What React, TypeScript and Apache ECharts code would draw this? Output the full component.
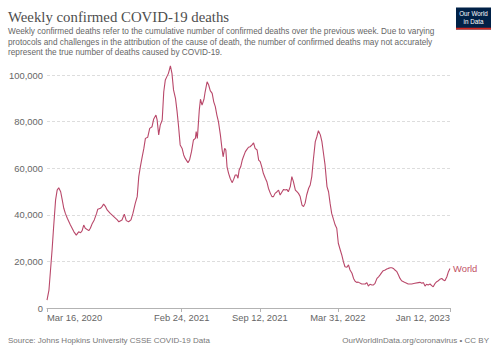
import React, { useEffect, useRef } from "react";
import * as echarts from "echarts";

const dates = [
  "2020-03-16","2020-03-21","2020-03-25","2020-03-29","2020-04-02","2020-04-07","2020-04-11","2020-04-15","2020-04-20","2020-04-24",
  "2020-04-28","2020-05-02","2020-05-07","2020-05-15","2020-05-24","2020-05-30","2020-06-05","2020-06-10","2020-06-14","2020-06-18",
  "2020-06-22","2020-07-01","2020-07-05","2020-07-10","2020-07-15","2020-07-21","2020-07-24","2020-07-31","2020-08-04","2020-08-08",
  "2020-08-13","2020-08-17","2020-08-25","2020-09-03","2020-09-12","2020-09-16","2020-09-24","2020-09-30","2020-10-05","2020-10-11",
  "2020-10-17","2020-10-22","2020-10-28","2020-11-02","2020-11-06","2020-11-10","2020-11-14","2020-11-19","2020-11-23","2020-11-29",
  "2020-12-04","2020-12-10","2020-12-14","2020-12-20","2020-12-23","2020-12-27","2020-12-31","2021-01-05","2021-01-09","2021-01-13",
  "2021-01-17","2021-01-21","2021-01-26","2021-01-30","2021-02-03","2021-02-08","2021-02-12","2021-02-16","2021-02-20","2021-02-25",
  "2021-03-01","2021-03-05","2021-03-12","2021-03-16","2021-03-21","2021-03-26","2021-03-31","2021-04-02","2021-04-05","2021-04-10",
  "2021-04-13","2021-04-17","2021-04-22","2021-04-25","2021-04-30","2021-05-04","2021-05-08","2021-05-13","2021-05-17","2021-05-21",
  "2021-05-25","2021-05-29","2021-06-03","2021-06-07","2021-06-10","2021-06-14","2021-06-17","2021-06-20","2021-06-24","2021-06-28",
  "2021-07-03","2021-07-07","2021-07-11","2021-07-15","2021-07-18","2021-07-21","2021-07-25","2021-07-29","2021-08-01","2021-08-06",
  "2021-08-10","2021-08-14","2021-08-18","2021-08-23","2021-08-27","2021-08-31","2021-09-05","2021-09-09","2021-09-13","2021-09-17",
  "2021-09-21","2021-09-26","2021-09-30","2021-10-04","2021-10-09","2021-10-13","2021-10-17","2021-10-21","2021-10-26","2021-10-30",
  "2021-11-03","2021-11-08","2021-11-12","2021-11-16","2021-11-20","2021-11-24","2021-11-29","2021-12-03","2021-12-07","2021-12-12",
  "2021-12-16","2021-12-20","2021-12-24","2021-12-29","2022-01-02","2022-01-06","2022-01-10","2022-01-15","2022-01-19","2022-01-23",
  "2022-01-27","2022-02-01","2022-02-05","2022-02-09","2022-02-14","2022-02-18","2022-02-22","2022-02-26","2022-03-03","2022-03-07",
  "2022-03-11","2022-03-15","2022-03-20","2022-03-24","2022-03-28","2022-04-01","2022-04-06","2022-04-10","2022-04-14","2022-04-18",
  "2022-04-23","2022-04-27","2022-05-01","2022-05-06","2022-05-10","2022-05-14","2022-05-18","2022-05-22","2022-05-31","2022-06-09",
  "2022-06-13","2022-06-17","2022-06-21","2022-06-26","2022-06-30","2022-07-04","2022-07-09","2022-07-13","2022-07-17","2022-07-21",
  "2022-07-25","2022-07-30","2022-08-03","2022-08-07","2022-08-12","2022-08-16","2022-08-20","2022-08-24","2022-08-29","2022-09-02",
  "2022-09-06","2022-09-10","2022-09-15","2022-09-19","2022-09-27","2022-10-06","2022-10-14","2022-10-23","2022-10-27","2022-11-01",
  "2022-11-05","2022-11-09","2022-11-13","2022-11-17","2022-11-22","2022-11-26","2022-11-30","2022-12-05","2022-12-09","2022-12-13",
  "2022-12-17","2022-12-22","2022-12-26","2022-12-30","2023-01-04","2023-01-08","2023-01-12",
];

const worldDeaths = [
  3400,7700,16300,24900,34900,46400,50600,51600,49900,46400,
  42800,40600,38500,35600,32700,31300,32700,32300,33200,35600,
  34200,33200,34200,36300,37800,40600,42400,42800,43500,44600,
  43500,42100,40600,39200,37800,37000,37800,40300,37500,37000,
  37800,40600,44900,47800,56400,60600,64200,68500,72800,73300,
  77100,77800,81000,82800,80700,74300,78500,80700,92800,97900,
  99300,100700,103900,100700,93600,90000,84500,77800,70000,68500,
  65700,64200,62400,63500,67100,72100,72800,75700,72800,85000,
  89600,87100,89600,92800,97100,95700,93300,92100,88500,86400,
  82800,80000,74300,68500,64900,68500,67800,60600,57800,55700,
  53800,55200,57100,57100,55700,59200,60600,63500,64900,67100,
  68100,69000,69200,70000,70900,68500,67800,63500,62800,60600,
  57800,55700,54200,51400,49200,47800,47800,49200,49900,50600,
  48500,49900,50900,50600,50900,49900,52100,56400,54200,50600,
  49900,49200,48000,44200,43500,45000,48500,51400,52800,56400,
  63500,71400,73500,76100,74300,71400,66400,61400,52100,49900,
  44900,40600,37800,35600,34200,27800,24900,22700,19900,17700,
  17500,18500,16300,14900,12700,11500,11000,11100,10300,10300,
  10900,9400,10200,9900,9900,10600,12700,13400,14200,15200,
  16000,16300,16700,17000,17300,17300,17000,16300,15600,14200,
  12700,11700,11300,10900,10300,10300,10600,10900,11000,10600,
  10900,9400,10200,9900,10300,9600,9100,10600,11300,11700,
  12300,12700,12000,11700,13400,15600,17000,
];

const xTickDates = ["2020-03-16", "2021-02-24", "2021-09-12", "2022-03-31", "2023-01-12"];
const yTicks = [0, 20000, 40000, 60000, 80000, 100000];
const seriesName = "World";

const MONTHS = ["Jan", "Feb", "Mar", "Apr", "May", "Jun", "Jul", "Aug", "Sep", "Oct", "Nov", "Dec"];

function ts(s: string): number {
  const [y, m, d] = s.split("-").map(Number);
  return Date.UTC(y, m - 1, d);
}
function fmtDate(v: number): string {
  const d = new Date(v);
  return `${MONTHS[d.getUTCMonth()]} ${d.getUTCDate()}, ${d.getUTCFullYear()}`;
}
function fmtNum(v: number): string {
  return String(Math.round(v)).replace(/\B(?=(\d{3})+(?!\d))/g, ",");
}

const SANS = "'Liberation Sans', Arial, sans-serif";
const SERIF = "'Liberation Serif', 'Times New Roman', serif";
const LINE_COLOR = "#B9486A";

export default function App() {
  const ref = useRef<HTMLDivElement>(null);
  useEffect(() => {
    if (!ref.current) return;
    const chart = echarts.init(ref.current, undefined, { renderer: "svg" });
    const tickTs = xTickDates.map(ts);
    const option: any = {
      animation: false,
      backgroundColor: "#ffffff",
      grid: { left: 47, right: 50, top: 75, bottom: 45, containLabel: false },
      xAxis: {
        type: "value",
        min: ts(dates[0]),
        max: ts(dates[dates.length - 1]),
        axisLine: { show: true, lineStyle: { color: "#b3b3b3", width: 1 } },
        axisTick: { show: true, customValues: tickTs, length: 4, lineStyle: { color: "#b3b3b3" } },
        axisLabel: {
          customValues: tickTs,
          formatter: (v: number) => fmtDate(v),
          color: "#666666",
          fontSize: 9.4,
          fontFamily: SANS,
          margin: 5,
          alignMinLabel: "left",
          alignMaxLabel: "right",
          hideOverlap: false,
        },
        splitLine: { show: false },
      },
      yAxis: {
        type: "value",
        min: yTicks[0],
        max: yTicks[yTicks.length - 1],
        interval: yTicks[1] - yTicks[0],
        axisLine: { show: false },
        axisTick: { show: false },
        axisLabel: {
          formatter: (v: number) => fmtNum(v),
          color: "#666666",
          fontSize: 9.4,
          fontFamily: SANS,
          margin: 4,
        },
        splitLine: { show: true, lineStyle: { color: "#dddddd", type: [3, 2], width: 1 } },
      },
      series: [
        {
          name: seriesName,
          type: "line",
          data: dates.map((d, i) => [ts(d), worldDeaths[i]]),
          showSymbol: false,
          symbol: "none",
          clip: false,
          lineStyle: { color: LINE_COLOR, width: 1.1 },
          endLabel: {
            show: true,
            formatter: seriesName,
            color: "#C15065",
            fontSize: 9.4,
            fontFamily: SANS,
            distance: 3,
          },
        },
      ],
      graphic: [
        {
          type: "text",
          style: {
            text: "Weekly confirmed COVID-19 deaths",
            x: 8,
            y: 16.5,
            fill: "#4e4e4e",
            fontSize: 14.8,
            fontFamily: SERIF,
            verticalAlign: "middle",
          },
        },
        {
          type: "text",
          style: {
            text:
              "Weekly confirmed deaths refer to the cumulative number of confirmed deaths over the previous week. Due to varying\nprotocols and challenges in the attribution of the cause of death, the number of confirmed deaths may not accurately\nrepresent the true number of deaths caused by COVID-19.",
            x: 8,
            y: 26.6,
            fill: "#666666",
            fontSize: 8.25,
            lineHeight: 10.3,
            fontFamily: SANS,
            verticalAlign: "top",
          },
        },
        {
          type: "rect",
          shape: { x: 456, y: 7.5, width: 35, height: 22 },
          style: { fill: "#002147" },
        },
        {
          type: "rect",
          shape: { x: 456, y: 27.8, width: 35, height: 1.7 },
          style: { fill: "#ce261e" },
        },
        {
          type: "text",
          style: {
            text: "Our World\nin Data",
            x: 473.5,
            y: 17.5,
            fill: "#ffffff",
            fontSize: 6.3,
            lineHeight: 7.2,
            fontFamily: SANS,
            align: "center",
            verticalAlign: "middle",
          },
        },
        {
          type: "text",
          style: {
            text: "Source: Johns Hopkins University CSSE COVID-19 Data",
            x: 8,
            y: 340,
            fill: "#777777",
            fontSize: 8,
            fontFamily: SANS,
            verticalAlign: "middle",
          },
        },
        {
          type: "text",
          style: {
            text: "OurWorldInData.org/coronavirus \u2022 CC BY",
            x: 489,
            y: 340,
            fill: "#777777",
            fontSize: 8,
            fontFamily: SANS,
            align: "right",
            verticalAlign: "middle",
          },
        },
      ],
    };
    chart.setOption(option);
    return () => chart.dispose();
  }, []);
  return (
    <div
      ref={ref}
      style={{ position: "fixed", left: 0, top: 0, width: 500, height: 353, background: "#fff" }}
    />
  );
}
